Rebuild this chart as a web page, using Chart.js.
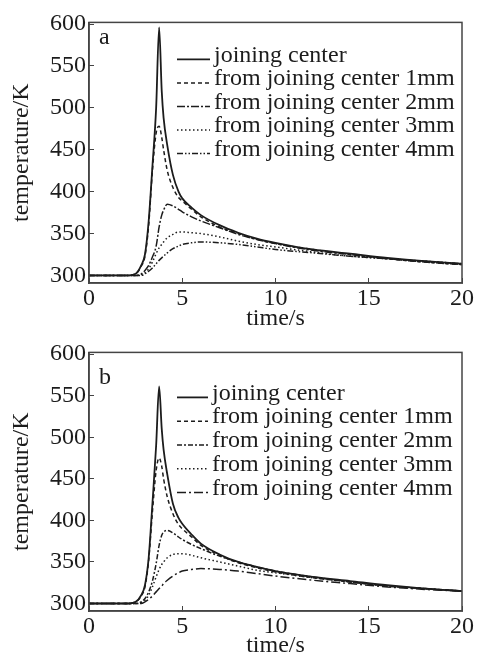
<!DOCTYPE html>
<html>
<head>
<meta charset="utf-8">
<script src="https://cdn.jsdelivr.net/npm/chart.js@4/dist/chart.umd.min.js"></script>
<style>
  body { margin: 0; background: #fff; }
  .panneau { position: relative; width: 480px; }
  #boite-a { height: 330px; }
  #boite-b { height: 327px; }
</style>
</head>
<body>
<div class="panneau" id="boite-a"><canvas id="chart-a"></canvas></div>
<div class="panneau" id="boite-b"><canvas id="chart-b"></canvas></div>
<script>
// Temps (s) communs aux deux figures
const temps = [0, 1, 2, 2.5, 2.8, 3.0, 3.2, 3.4, 3.6, 3.76, 3.9, 4.0, 4.2, 4.5, 4.8, 5, 5.5, 6, 7, 8, 9, 10, 12, 14, 16, 18, 20];

// Figure a : températures (K)
const centreA = [300, 300, 300, 302, 312, 325, 365, 430, 500, 596, 520, 488, 455, 420, 400, 392, 381, 372, 360, 351, 344, 339, 331, 326, 321, 317, 314];
const a1mm = [300, 300, 300, 302, 311, 323, 360, 425, 470, 478, 465, 450, 425, 405, 393, 389, 379, 370, 358, 350, 343, 338, 331, 325, 320, 316, 313];
const a2mm = [300, 300, 300, 300, 302, 306, 312, 322, 335, 358, 372, 378, 385, 383, 379, 376, 370, 365, 357, 349, 343, 338, 330, 325, 320, 316, 313];
const a3mm = [300, 300, 300, 300, 301, 303, 308, 316, 326, 333, 337, 340, 345, 349, 352, 352, 351, 350, 346, 341, 337, 334, 328, 323, 320, 317, 314];
const a4mm = [300, 300, 300, 300, 300, 302, 305, 309, 314, 318, 321, 323, 327, 332, 335, 337, 339, 340, 339, 337, 334, 331, 327, 323, 320, 317, 314];

// Figure b : températures (K)
const centreB = [300, 300, 300, 302, 310, 322, 355, 420, 490, 561, 510, 485, 455, 420, 403, 396, 383, 372, 359, 350, 344, 339, 332, 327, 322, 318, 315];
const b1mm = [300, 300, 300, 302, 309, 320, 352, 410, 460, 475, 465, 450, 428, 408, 395, 390, 380, 370, 358, 349, 343, 338, 331, 326, 321, 318, 315];
const b2mm = [300, 300, 300, 300, 302, 306, 314, 327, 348, 370, 382, 386, 388, 385, 380, 377, 371, 366, 357, 350, 344, 339, 332, 326, 321, 318, 315];
const b3mm = [300, 300, 300, 300, 301, 304, 310, 320, 332, 341, 347, 350, 355, 359, 360, 360, 358, 355, 350, 345, 340, 337, 331, 326, 321, 318, 315];
const b4mm = [300, 300, 300, 300, 300, 302, 305, 309, 314, 318, 321, 324, 328, 333, 337, 339, 341, 342, 341, 339, 336, 333, 328, 324, 320, 317, 315];

const libelles = ["joining center", "from joining center 1mm", "from joining center 2mm", "from joining center 3mm", "from joining center 4mm"];

const police = "'Liberation Serif', 'DejaVu Serif', serif";
const encre = "#1c1c1c";

// Légende dessinée dans la zone du graphique (en haut à droite)
const legendeInterne = {
  id: 'legendeInterne',
  afterDraw(chart, args, opts) {
    const { ctx, chartArea } = chart;
    ctx.save();
    ctx.font = "24px " + police;
    ctx.fillStyle = encre;
    ctx.textBaseline = "middle";
    chart.data.datasets.forEach((ds, i) => {
      const y = chartArea.top + opts.haut + i * opts.pas;
      const x = chartArea.left + opts.gauche;
      ctx.strokeStyle = encre;
      ctx.lineWidth = ds.borderWidth;
      ctx.setLineDash(ds.borderDash || []);
      ctx.beginPath();
      ctx.moveTo(x, y + 4);
      ctx.lineTo(x + opts.longueur, y + 4);
      ctx.stroke();
      ctx.setLineDash([]);
      ctx.fillText(ds.label, x + opts.longueur + 4, y);
    });
    // lettre du panneau
    ctx.font = "24px " + police;
    ctx.fillText(opts.lettre, chartArea.left + 10, chartArea.top + opts.hautLettre);
    // cadre complet
    ctx.lineWidth = 1.5;
    ctx.strokeStyle = "#444";
    ctx.strokeRect(chartArea.left, chartArea.top, chartArea.right - chartArea.left, chartArea.bottom - chartArea.top);
    ctx.restore();
  }
};

function creerGraphique(id, series, tirets, reglages) {
  const ctx = document.getElementById(id).getContext("2d");
  return new Chart(ctx, {
    type: "line",
    data: {
      labels: temps,
      datasets: series.map((valeurs, i) => ({
        label: libelles[i],
        data: valeurs.map((v, k) => ({ x: temps[k], y: v })),
        borderColor: encre,
        borderWidth: i === 0 ? 1.8 : 1.5,
        borderDash: tirets[i],
        pointRadius: 0,
        fill: false,
        cubicInterpolationMode: "monotone"
      }))
    },
    options: {
      responsive: true,
      maintainAspectRatio: false,
      animation: false,
      layout: { padding: { top: reglages.hautZone, right: 13, left: 0, bottom: 0 } },
      plugins: {
        legend: { display: false },
        tooltip: { enabled: false },
        legendeInterne: reglages.legende
      },
      scales: {
        x: {
          type: "linear",
          min: 0,
          max: 20,
          afterFit(scale) { scale.height = reglages.hautAxeX; },
          ticks: { stepSize: 5, color: encre, padding: 6, font: { family: police, size: 24 } },
          grid: { drawOnChartArea: false, tickLength: -5, color: "#444" },
          border: { color: "#444", width: 1.5 },
          title: { display: true, text: "time/s", color: encre, font: { family: police, size: 24, lineHeight: 0.9 }, padding: { top: 0, bottom: 0 } }
        },
        y: {
          min: 291,
          max: 602,
          afterFit(scale) { scale.width = 89; },
          ticks: { stepSize: 50, includeBounds: false, color: encre, padding: 8, font: { family: police, size: 24 } },
          grid: { drawOnChartArea: false, tickLength: -5, color: "#444" },
          border: { color: "#444", width: 1.5 },
          title: { display: true, text: "temperature/K", color: encre, font: { family: police, size: 24 }, padding: { top: 7, bottom: 0 } }
        }
      }
    },
    plugins: [legendeInterne]
  });
}

creerGraphique("chart-a", [centreA, a1mm, a2mm, a3mm, a4mm],
  [[], [4, 3], [8, 2, 2, 2], [1.5, 2.5], [6, 2, 1.5, 2, 1.5, 2]],
  { hautZone: 20, hautAxeX: 47,
    legende: { gauche: 88, haut: 33, pas: 23.5, longueur: 33, lettre: "a", hautLettre: 15 } });

creerGraphique("chart-b", [centreB, b1mm, b2mm, b3mm, b4mm],
  [[], [4, 3], [5, 2, 2, 2], [1.5, 2.5], [9, 3, 2, 3]],
  { hautZone: 17, hautAxeX: 46,
    legende: { gauche: 88, haut: 41, pas: 23.8, longueur: 31, lettre: "b", hautLettre: 25 } });
</script>
</body>
</html>
